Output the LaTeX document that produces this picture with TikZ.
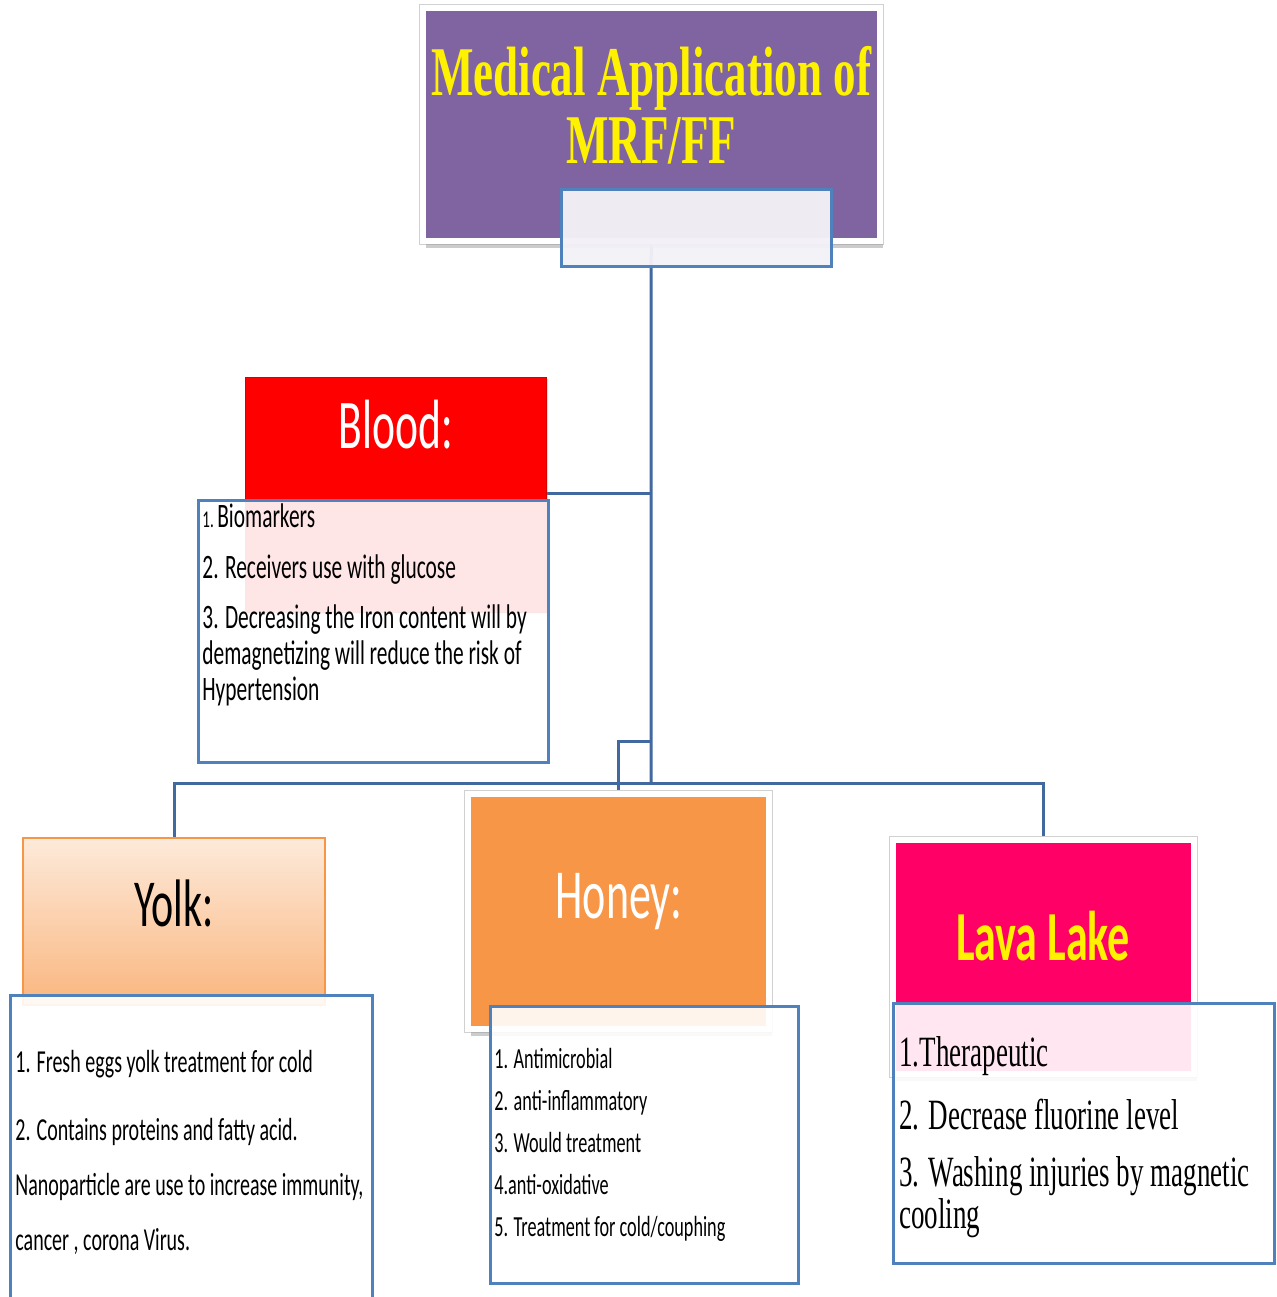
\documentclass[tikz,border=0pt]{standalone}
\usepackage{fontspec}
\setmainfont{Carlito}
\newfontfamily\timesf{Liberation Serif}
\usetikzlibrary{positioning,fit,backgrounds,shadows}
\definecolor{titlebg}{HTML}{8064A2}
\definecolor{boxline}{HTML}{4F81BD}
\definecolor{connc}{HTML}{4169A0}
\definecolor{mrfc}{HTML}{F3F1F7}
\definecolor{honeyc}{HTML}{F79646}
\definecolor{lavac}{HTML}{FF0066}
\definecolor{yolktop}{HTML}{FDEADA}
\definecolor{yolkbot}{HTML}{FAB67F}
\definecolor{yolkline}{HTML}{F79646}

\begin{document}
\begin{tikzpicture}[x=0.5pt,y=-0.5pt,
  conn/.style={draw=connc,line width=1.5pt},
  hdr/.style={inner sep=0pt},
  framed/.style={draw=white,line width=3pt,preaction={draw=black!18,line width=4pt},
    drop shadow={shadow xshift=1.6pt,shadow yshift=-3.6pt,opacity=0.5,fill=black!40}},
  itembox/.style={inner sep=0pt,draw=boxline,line width=1.5pt,fill=white,fill opacity=0.9},
  tall/.style={yscale=1.6,inner sep=0pt},
  list/.style={tall,anchor=north west,align=left}]
  \useasboundingbox (0,0) rectangle (1277,1297);
  % top box and the small box under it
  \node[hdr,framed,fill=titlebg,fit={(423,7.5) (879.5,241)}] (title) {};
  \node[hdr,draw=boxline,line width=1.5pt,fill=mrfc,fill opacity=0.96,fit={(561,189) (831,266)}] (mrf) {};
  \node[tall,yscale=0.97,anchor=base,text=yellow,font=\timesf\bfseries\fontsize{22.5}{22.5}\selectfont] (titleA) at (651,95) {Medical Application of};
  \node[tall,yscale=0.97,anchor=base,text=yellow,font=\timesf\bfseries\fontsize{22.5}{22.5}\selectfont] (titleB) at (651,163) {MRF/FF};
  % blood
  \node[hdr,fill=red,draw=red!85!black,line width=0.4pt,drop shadow={shadow xshift=1pt,shadow yshift=-1.2pt,opacity=0.25},fit={(245,377) (546,612)}] (blood) {};
  \node[itembox,fit={(198,500) (548,762)}] (bloodlist) {};
  \node[tall,anchor=base,text=white,font=\fontsize{21.8}{22}\selectfont] (bloodtxt) at (396,448) {Blood:};
  \node[list,font=\fontsize{10.7}{11.25}\selectfont] (blooditems) at (202,503.5)
    {{\fontsize{7.5}{8}\selectfont 1.}\,Biomarkers\\[4.4pt]
     2. Receivers use with glucose\\[4.4pt]
     3. Decreasing the Iron content will by\\
     demagnetizing will reduce the risk of\\
     Hypertension};
  % yolk
  \node[hdr,draw=yolkline,line width=0.75pt,top color=yolktop,bottom color=yolkbot,fit={(23,838) (325,1005)}] (yolk) {};
  \node[itembox,fit={(10,995) (372,1320)}] (yolklist) {};
  \node[tall,anchor=base,font=\fontsize{21}{22}\selectfont] (yolktxt) at (174,926) {Yolk:};
  \node[list,font=\fontsize{10}{17.2}\selectfont] (yolkitems) at (15,1049.6)
    {1. Fresh eggs yolk treatment for cold\\[4pt]
     2. Contains proteins and fatty acid.\\
     Nanoparticle are use to increase immunity,\\
     cancer , corona Virus.};
  % honey
  \node[hdr,framed,fill=honeyc,fit={(468,794) (769,1029)}] (honey) {};
  \node[itembox,fit={(490,1006) (798,1283)}] (honeylist) {};
  \node[tall,anchor=base,text=white,font=\fontsize{22}{22}\selectfont] (honeytxt) at (619,918) {Honey:};
  \node[list,font=\fontsize{9.1}{13.1}\selectfont] (honeyitems) at (494,1048)
    {1. Antimicrobial\\
     2. anti-inflammatory\\
     3. Would treatment\\
     4.anti-oxidative\\
     5. Treatment for cold/couphing};
  % lava lake
  \node[hdr,framed,fill=lavac,fit={(893,839.5) (1194,1074)}] (lava) {};
  \node[itembox,fit={(893,1003) (1274,1263)}] (lavalist) {};
  \node[tall,anchor=base,text=yellow,font=\bfseries\fontsize{22}{22}\selectfont] (lavatxt) at (1043,960) {Lava Lake};
  \node[list,font=\timesf\fontsize{13.5}{11.6}\selectfont] (lavaitems) at (899,1035.5)
    {1.Therapeutic\\[6.3pt]
     2. Decrease fluorine level\\[6.3pt]
     3. Washing injuries by magnetic\\
     cooling};
  % connectors, behind the boxes
  \begin{scope}[on background layer]
    \coordinate (bus) at (651,783);
    \coordinate (kink) at (651,741);
    \coordinate (bloodjoin) at ([yshift=-58.5pt]blood.north east);
    \draw[conn] (title.south) -- (bus);
    \draw[conn] (bloodjoin) -- (bloodjoin -| bus);
    \draw[conn] (yolk.north) |- (bus) -| (lava.north);
    \draw[conn] (kink) -| (honey.north);
  \end{scope}
\end{tikzpicture}
\end{document}
